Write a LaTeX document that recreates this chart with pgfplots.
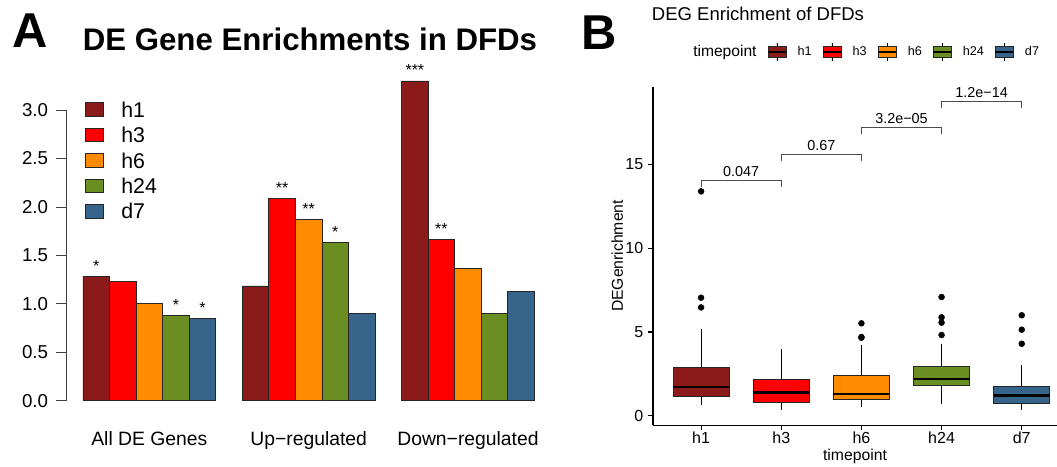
\documentclass[border=0pt]{standalone}
\usepackage{fontspec}
\setmainfont{Liberation Sans}
\usepackage{pgfplots}
\pgfplotsset{compat=1.18}
\usepgfplotslibrary{statistics}

\definecolor{h1c}{HTML}{8B1A1A}
\definecolor{h3c}{HTML}{FF0000}
\definecolor{h6c}{HTML}{FF8C00}
\definecolor{h24c}{HTML}{6B8E23}
\definecolor{d7c}{HTML}{36648B}

\pgfplotsset{
  bpkey/.style={legend image code/.code={
    \draw[black, line width=0.6pt] (6.75pt,-7pt) -- (6.75pt,7pt);
    \draw[##1, draw=black!85, line width=0.6pt] (0pt,-4pt) rectangle (13.5pt,4pt);
    \draw[black, line width=1pt] (0pt,0pt) -- (13.5pt,0pt);
  }},
}

\begin{document}
\begin{tikzpicture}
\useasboundingbox (0,0) rectangle (792.75pt,350.25pt);

% panel letters and titles
\node[anchor=base west, inner sep=0pt, font=\fontsize{36.7}{40}\selectfont\bfseries] at (9pt,314.25pt) {A};
\node[anchor=base, inner sep=0pt, font=\fontsize{23.4}{26}\selectfont\bfseries] at (232.5pt,312pt) {DE Gene Enrichments in DFDs};
\node[anchor=base west, inner sep=0pt, font=\fontsize{36.7}{40}\selectfont\bfseries] at (436pt,312.75pt) {B};
\node[anchor=base west, inner sep=0pt, font=\fontsize{13.9}{16}\selectfont] at (488.7pt,334.5pt) {DEG Enrichment of DFDs};

% ---------------- panel A: bar chart
\begin{axis}[
  at={(49.5pt,49.725pt)}, anchor=south west,
  scale only axis, width=364pt, height=218pt,
  xmin=0.36, xmax=18.64, ymin=0, ymax=3,
  clip=false,
  axis y line*=left, axis x line*=bottom,
  x axis line style={draw=none},
  y axis line style={black!75, line width=0.6pt},
  ytick={0,0.5,1,1.5,2,2.5,3},
  yticklabel style={/pgf/number format/fixed, /pgf/number format/fixed zerofill,
    /pgf/number format/precision=1, font=\fontsize{14}{16}\selectfont, xshift=-2.5pt},
  /pgf/number format/assume math mode=true,
  xtick={3.5,9.5,15.5},
  xticklabels={All DE Genes, Up−regulated, Down−regulated},
  xtick style={draw=none},
  ytick style={black!75, line width=0.6pt},
  tick align=outside, major tick length=7.5pt,
  xticklabel style={font=\fontsize{14.5}{17}\selectfont, anchor=base, yshift=-25.75pt},
  every axis plot/.append style={ybar, bar width=1, bar shift=0pt, draw=black!85, line width=0.6pt},
  nodes near coords, point meta=explicit symbolic,
  every node near coord/.append style={font=\fontsize{12}{14}\selectfont, inner sep=0pt, anchor=base, yshift=3.75pt},
  legend image code/.code={\draw[#1, draw=black!85, line width=0.6pt] (0pt,-5pt) rectangle (13.5pt,5pt);},
  legend cell align=left,
  legend style={draw=none, fill=none, inner sep=0pt, at={(axis description cs:0.039,1.034)}, anchor=north west,
    font=\fontsize{16}{19}\selectfont, nodes={inner sep=1pt, text height=11.5pt, text depth=0pt},
    row sep=5.6pt, /tikz/every odd column/.append style={column sep=12pt}},
]
\addplot[fill=h1c]  coordinates {(1.5,1.287)[*]  (7.5,1.184)[]   (13.5,3.30)[***]};
\addplot[fill=h3c]  coordinates {(2.5,1.235)[]   (8.5,2.085)[**] (14.5,1.666)[**]};
\addplot[fill=h6c]  coordinates {(3.5,1.000)[]   (9.5,1.868)[**] (15.5,1.362)[]};
\addplot[fill=h24c] coordinates {(4.5,0.881)[*]  (10.5,1.635)[*] (16.5,0.902)[]};
\addplot[fill=d7c]  coordinates {(5.5,0.853)[*]  (11.5,0.902)[]  (17.5,1.129)[]};
\legend{h1,h3,h6,h24,d7}
\end{axis}

% ---------------- panel B: box plots
\begin{axis}[
  at={(489.75pt,31.275pt)}, anchor=south west,
  scale only axis, width=303pt, height=253.95pt,
  xmin=0.4, xmax=5.44, ymin=-0.57, ymax=19.65,
  clip=false,
  axis x line*=bottom, axis y line*=left,
  axis line style={black, line width=0.8pt},
  tick align=outside, major tick length=3.75pt,
  tick style={black, line width=0.8pt},
  xtick={1,2,3,4,5}, xticklabels={h1,h3,h6,h24,d7},
  ytick={0,5,10,15},
  ticklabel style={font=\fontsize{12}{14}\selectfont},
  xticklabel style={yshift=2.25pt},
  /pgf/number format/assume math mode=true,
  xlabel={timepoint}, ylabel={DEGenrichment},
  every axis x label/.style={at={(axis description cs:0.5,-0.105)}, anchor=base, font=\fontsize{11.8}{14}\selectfont},
  every axis y label/.style={at={(axis description cs:-0.0743,0.5)}, rotate=90, anchor=base, font=\fontsize{11.8}{14}\selectfont},
  boxplot/draw direction=y,
  boxplot/box extend=0.7,
  boxplot/whisker extend=0,
  boxplot/every median/.style={black, line width=1.8pt},
  boxplot/every whisker/.style={black, line width=0.8pt},
  boxplot/every box/.style={draw=black!85, line width=0.7pt},
  every axis plot/.append style={forget plot, mark=*, mark size=2.2pt, mark options={black, fill=black}},
  legend style={draw=none, fill=none, inner sep=0pt, legend columns=-1,
    at={(axis description cs:0.0718,1.1025)}, anchor=west,
    font=\fontsize{9.5}{11}\selectfont, nodes={inner sep=0pt},
    /tikz/every odd column/.append style={column sep=8.25pt},
    /tikz/every even column/.append style={column sep=8pt}},
]
\addplot[fill=h1c, boxplot prepared={lower whisker=0.64, lower quartile=1.135, median=1.70,
  upper quartile=2.89, upper whisker=5.18, draw position=1}]
  table[row sep=\\, y index=0] {y\\ 13.4\\ 7.05\\ 6.47\\};
\addplot[fill=h3c, boxplot prepared={lower whisker=0.36, lower quartile=0.82, median=1.40,
  upper quartile=2.17, upper whisker=3.97, draw position=2}]
  coordinates {};
\addplot[fill=h6c, boxplot prepared={lower whisker=0.54, lower quartile=0.96, median=1.31,
  upper quartile=2.41, upper whisker=4.24, draw position=3}]
  table[row sep=\\, y index=0] {y\\ 5.52\\ 4.70\\ 4.66\\};
\addplot[fill=h24c, boxplot prepared={lower whisker=0.70, lower quartile=1.83, median=2.19,
  upper quartile=2.97, upper whisker=4.30, draw position=4}]
  table[row sep=\\, y index=0] {y\\ 7.09\\ 5.88\\ 5.56\\ 4.82\\};
\addplot[fill=d7c, boxplot prepared={lower whisker=0.36, lower quartile=0.72, median=1.22,
  upper quartile=1.73, upper whisker=3.01, draw position=5}]
  table[row sep=\\, y index=0] {y\\ 6.00\\ 5.14\\ 4.30\\};

% significance brackets
\addplot[gray!60!black, line width=0.6pt, mark=none] coordinates {(1,13.66) (1,14.06) (2,14.06) (2,13.66)};
\addplot[gray!60!black, line width=0.6pt, mark=none] coordinates {(2,15.23) (2,15.63) (3,15.63) (3,15.23)};
\addplot[gray!60!black, line width=0.6pt, mark=none] coordinates {(3,16.80) (3,17.20) (4,17.20) (4,16.80)};
\addplot[gray!60!black, line width=0.6pt, mark=none] coordinates {(4,18.36) (4,18.76) (5,18.76) (5,18.36)};
\node[anchor=base, inner sep=0pt, yshift=3pt, font=\fontsize{10.8}{12}\selectfont] at (axis cs:1.5,14.06) {0.047};
\node[anchor=base, inner sep=0pt, yshift=3pt, font=\fontsize{10.8}{12}\selectfont] at (axis cs:2.5,15.63) {0.67};
\node[anchor=base, inner sep=0pt, yshift=3pt, font=\fontsize{10.8}{12}\selectfont] at (axis cs:3.5,17.20) {3.2e−05};
\node[anchor=base, inner sep=0pt, yshift=3pt, font=\fontsize{10.8}{12}\selectfont] at (axis cs:4.5,18.76) {1.2e−14};

\addlegendimage{empty legend}\addlegendentry{\fontsize{11.7}{13}\selectfont timepoint}
\addlegendimage{bpkey, fill=h1c}\addlegendentry{h1}
\addlegendimage{bpkey, fill=h3c}\addlegendentry{h3}
\addlegendimage{bpkey, fill=h6c}\addlegendentry{h6}
\addlegendimage{bpkey, fill=h24c}\addlegendentry{h24}
\addlegendimage{bpkey, fill=d7c}\addlegendentry{d7}
\end{axis}
\end{tikzpicture}
\end{document}
